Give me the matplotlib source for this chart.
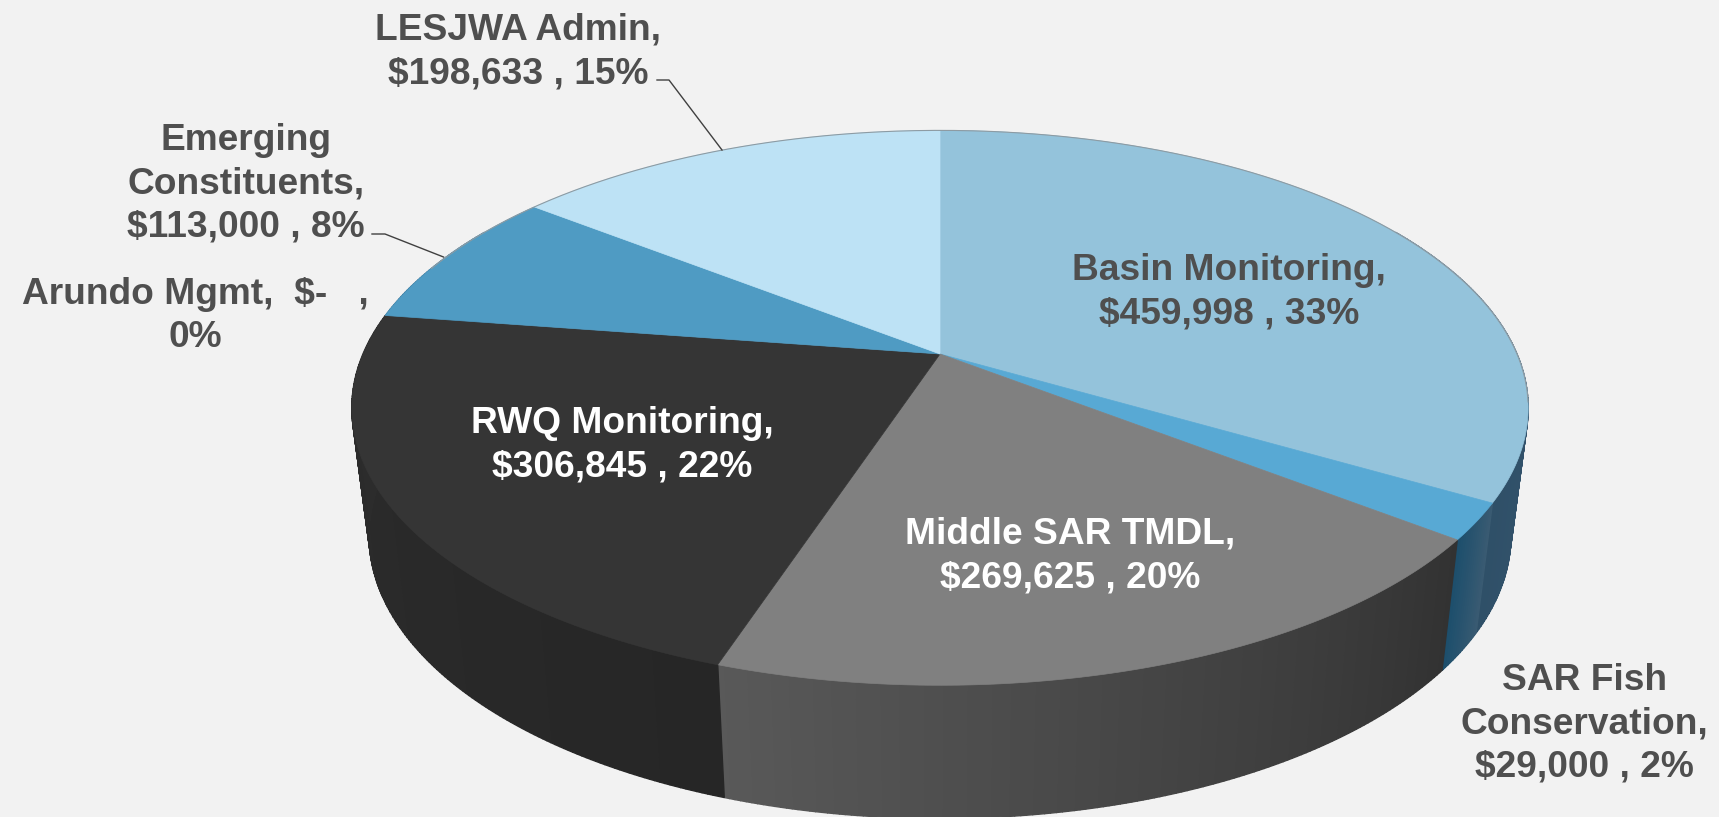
#!/usr/bin/env python3
# -*- coding: utf-8 -*-
#
# plot.py: Budget breakdown drawn as a perspective 3D pie chart

import numpy as np
import matplotlib.pyplot as plt
from matplotlib.colors import to_rgb

plt.rcParams["font.family"] = ["Liberation Sans", "DejaVu Sans"]

WIDTH, HEIGHT = 1719, 817
BACKGROUND = "#f2f2f2"
TEXT_GREY = "#4f4f4f"

# Clockwise from 12 o'clock
CATEGORIES = [
    "Basin Monitoring",
    "SAR Fish Conservation",
    "Middle SAR TMDL",
    "RWQ Monitoring",
    "Arundo Mgmt",
    "Emerging Constituents",
    "LESJWA Admin",
]
VALUES = [459998, 29000, 269625, 306845, 0, 113000, 198633]

TOP_COLOURS = [
    "#94c3db",
    "#58a9d4",
    "#808080",
    "#353535",
    "#1f6f9f",
    "#4f9bc3",
    "#bde2f5",
]
WALL_COLOURS = [
    ("#3a5570", "#2f5068"),
    ("#3a5b72", "#1c4e6c"),
    ("#323232", "#595959"),
    ("#262626", "#2d2d2d"),
    ("#1f6f9f", "#1f6f9f"),
    ("#3a7396", "#3a7396"),
    ("#8db0c2", "#8db0c2"),
]

LABELS = [
    "Basin Monitoring,\n$459,998 , 33%",
    "SAR Fish\nConservation,\n$29,000 , 2%",
    "Middle SAR TMDL,\n$269,625 , 20%",
    "RWQ Monitoring,\n$306,845 , 22%",
    "Arundo Mgmt,  $-   ,\n0%",
    "Emerging\nConstituents,\n$113,000 , 8%",
    "LESJWA Admin,\n$198,633 , 15%",
]
LABEL_POS = [
    (1229, 292),
    (1584, 724),
    (1070, 556),
    (622, 445),
    (195, 316),
    (246, 184),
    (518, 52),
]
LABEL_COLOURS = [TEXT_GREY, TEXT_GREY, "white", "white", TEXT_GREY, TEXT_GREY, TEXT_GREY]

LEADERS = [
    ([657, 669, 722], [80, 80, 150]),
    ([372, 385, 443.5], [234, 234, 257]),
]

# Perspective of the top and bottom disks, in pixels
PERSP = 0.194
CENTRE_X = 940
TOP = {"a": 577, "b": 267, "cy": 354}
BOTTOM = {"a": 560, "b": 272, "cy": 481}


def project(theta, disk, radius=1.0):
    """Projects a point of the pie disk on the image

    Arguments:
    theta -- np.array, clockwise angle from 12 o'clock in degrees.
    disk -- dict, projection parameters of the disk.
    radius -- float, distance from the centre of the pie.

    Return:
    u, v -- np.array, image coordinates in pixels.
    """
    x = radius * np.sin(np.radians(theta))
    y = radius * np.cos(np.radians(theta))
    w = 1 + PERSP * y

    return CENTRE_X + disk["a"] * x / w, disk["cy"] - disk["b"] * y / w


def plotWall(ax, start, end, colours):
    """Draws the visible outer wall of a slice as shaded strips"""
    start = max(start, 60)
    end = min(end, 300)

    if end <= start:
        return

    edges = np.arange(start, end + 0.5, 0.5)
    edges[-1] = end
    c0, c1 = to_rgb(colours[0]), to_rgb(colours[1])

    for k in range(len(edges) - 1):
        t = np.linspace(edges[k], edges[k + 1], 3)
        u_top, v_top = project(t, TOP)
        u_bot, v_bot = project(t, BOTTOM)
        frac = (edges[k] - start) / max(end - start, 1e-6)
        colour = tuple(a + (b - a) * frac for a, b in zip(c0, c1))
        ax.fill(
            np.r_[u_top, u_bot[::-1]],
            np.r_[v_top, v_bot[::-1]],
            color=colour,
            linewidth=1.0,
            zorder=1,
        )


def plotPie():
    """Plots the pie, its labels and leader lines"""
    fig = plt.figure(figsize=(WIDTH / 100, HEIGHT / 100), dpi=100, facecolor=BACKGROUND)
    ax = fig.add_axes([0, 0, 1, 1])
    ax.set_xlim(0, WIDTH)
    ax.set_ylim(HEIGHT, 0)
    ax.axis("off")

    edges = np.r_[0, np.cumsum(VALUES)] / np.sum(VALUES) * 360

    for i in range(len(VALUES)):
        plotWall(ax, edges[i], edges[i + 1], WALL_COLOURS[i])

    for i in range(len(VALUES)):
        if VALUES[i] == 0:
            continue

        t = np.linspace(edges[i], edges[i + 1], 200)
        u, v = project(t, TOP)
        u0, v0 = project(np.array([0.0]), TOP, radius=0.0)
        ax.fill(
            np.r_[u0, u],
            np.r_[v0, v],
            color=TOP_COLOURS[i],
            linewidth=0.5,
            zorder=2,
        )

    # Thin rim on the back of the disk
    t = np.linspace(-70, 100, 300)
    u, v = project(t, TOP)
    ax.plot(u, v, color="#8d9ba3", linewidth=0.8, zorder=3)

    for xs, ys in LEADERS:
        ax.plot(xs, ys, color="#404040", linewidth=1.0, zorder=3)

    for i, label in enumerate(LABELS):
        ax.text(
            LABEL_POS[i][0],
            LABEL_POS[i][1],
            label,
            color=LABEL_COLOURS[i],
            fontsize=26.7,
            fontweight="bold",
            ha="center",
            va="center",
            multialignment="center",
            linespacing=1.3,
            zorder=4,
        )

    fig.savefig("out.png", dpi=100, facecolor=BACKGROUND)


plotPie()
